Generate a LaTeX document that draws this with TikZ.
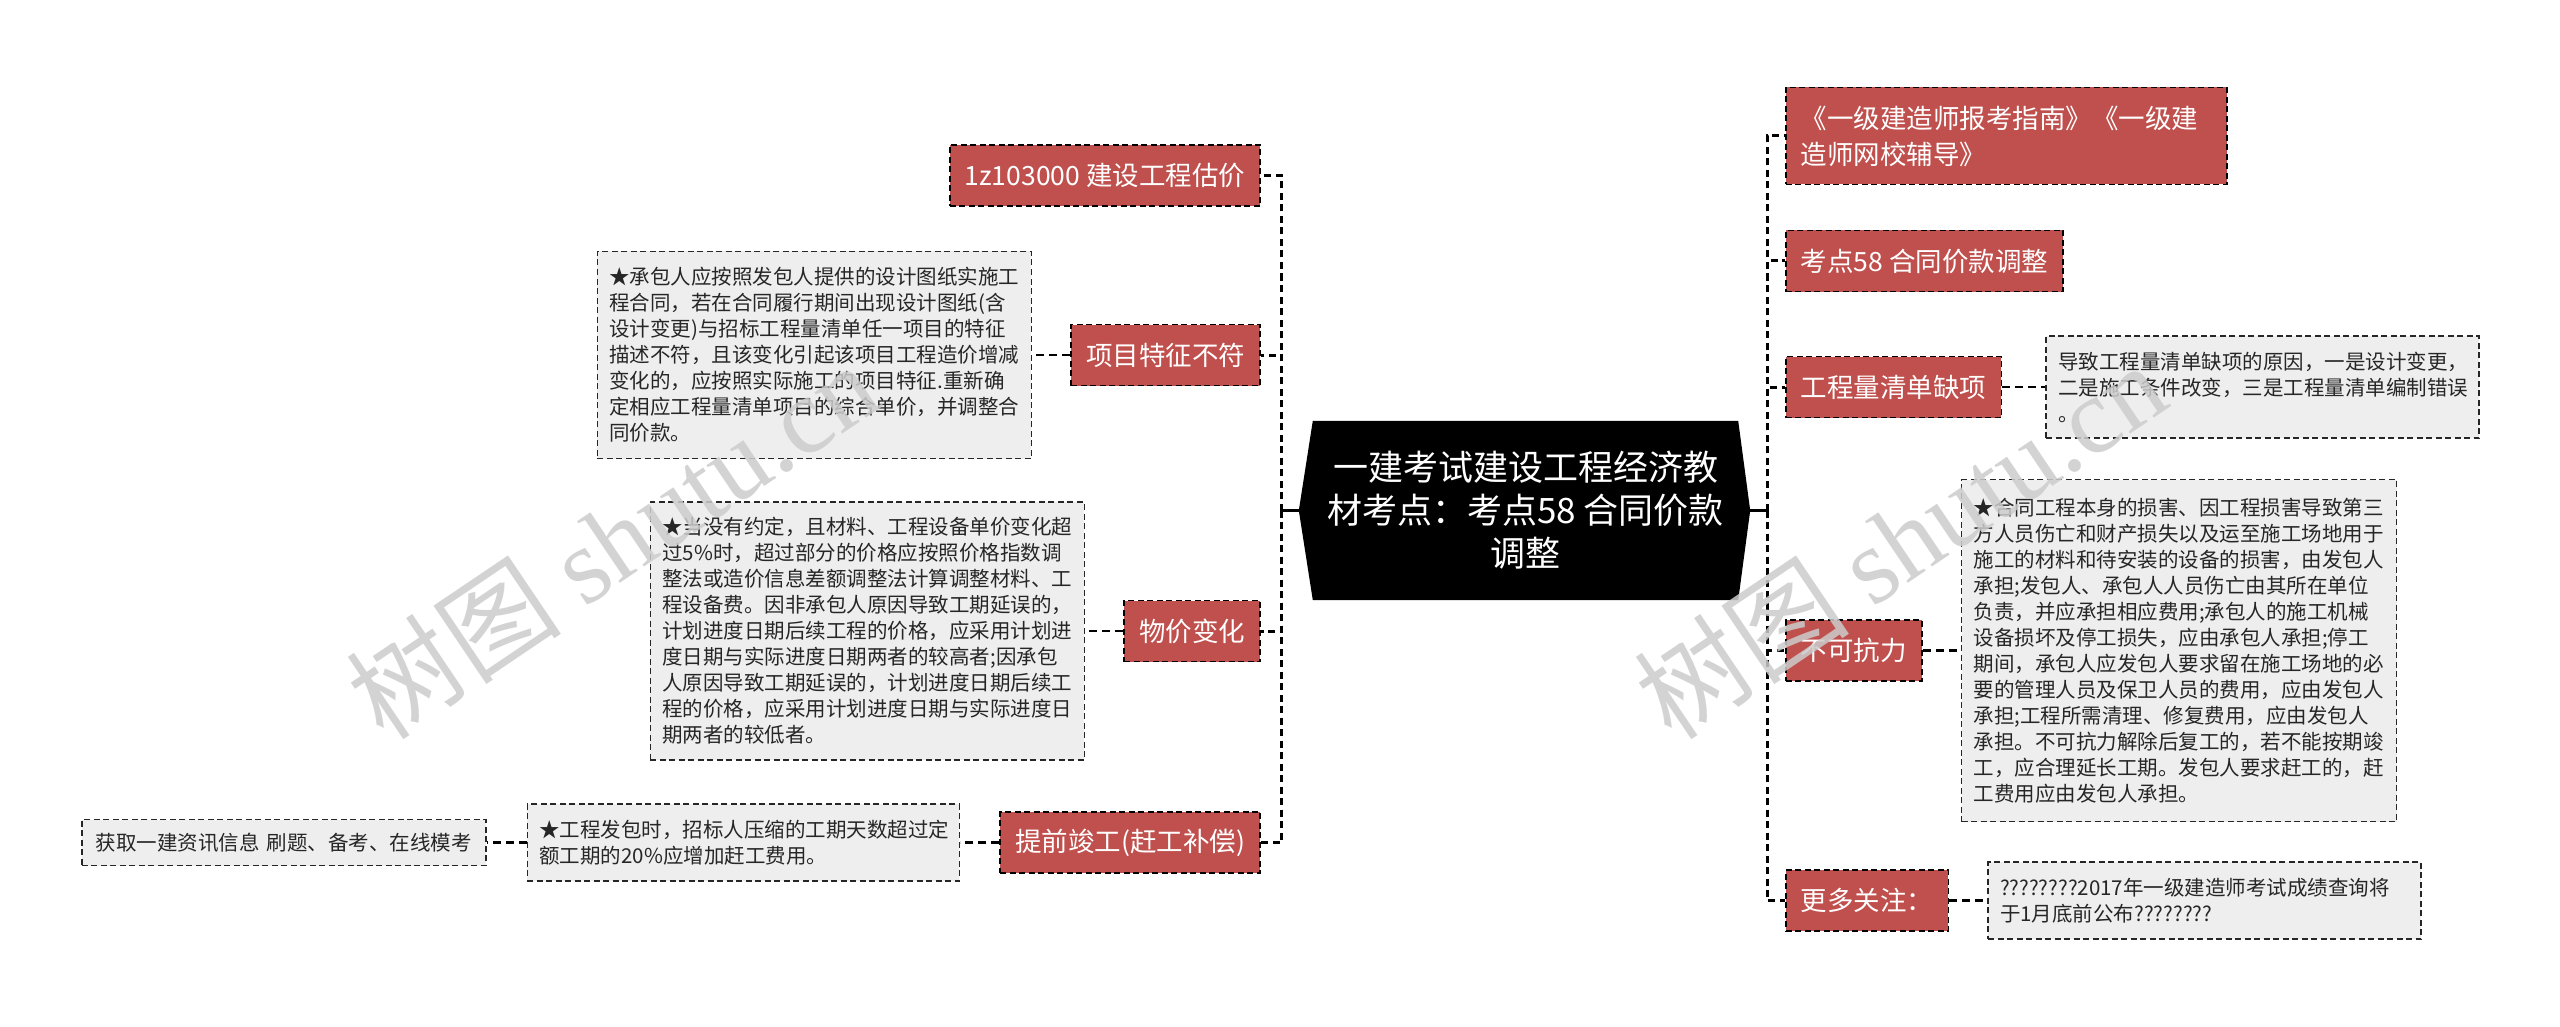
\documentclass[tikz,border=0pt]{standalone}
\usepackage{fontspec}
\setmainfont{Noto Sans CJK SC}
\newfontfamily\wmserif{Liberation Serif}
\usetikzlibrary{positioning,backgrounds}
\definecolor{nodered}{RGB}{192,80,77}
\definecolor{boxgray}{RGB}{238,238,238}
\begin{document}
\begin{tikzpicture}[x=1pt,y=-1pt,
  redbox/.style={draw=black, line width=1.8pt, dash pattern=on 6pt off 3.5pt, fill=nodered, text=white,
    font=\fontsize{26.5}{33}\selectfont, inner xsep=15pt, inner ysep=0pt, minimum height=61pt},
  graybox/.style={draw=black!85, line width=1.6pt, dash pattern=on 6pt off 3.5pt, fill=boxgray, text=black!85,
    font=\fontsize{20.5}{26}\selectfont, inner xsep=12pt, inner ysep=0pt, align=left},
  trunk/.style={line width=3pt, dash pattern=on 7pt off 4.5pt},
  twig/.style={line width=2.4pt, dash pattern=on 8pt off 5pt},
  wmark/.style={rotate=34, text=black!20, opacity=0.85, font=\fontsize{108}{108}\selectfont}
]
\useasboundingbox (0,0) rectangle (2560,1027);

% central node
\node[font=\fontsize{35}{43}\selectfont, text=white, align=center, minimum width=425pt, minimum height=179pt, inner sep=0pt]
  (root) at (1525.5,510.5) {一建考试建设工程经济教\\材考点：考点58 合同价款\\调整};
\begin{scope}[on background layer]
  \fill[white] (0,0) rectangle (2560,1027);
  \fill[black] (root.north west) -- (root.north east) -- ([xshift=12pt]root.east) -- (root.south east)
    -- (root.south west) -- ([xshift=-14pt]root.west) -- cycle;
\end{scope}
\coordinate (rootW) at ([xshift=-14pt]root.west);
\coordinate (rootE) at ([xshift=12pt]root.east);
\coordinate (lt) at (1281,510.5);
\coordinate (rt) at (1767,510.5);

% left branch
\node[redbox, anchor=east] (L1) at (1261,175.5) {1z103000 建设工程估价};
\node[redbox, anchor=east] (L2) at (1261,355) {项目特征不符};
\node[redbox, anchor=east] (L3) at (1261,631) {物价变化};
\node[redbox, anchor=east] (L4) at (1261,842.5) {提前竣工(赶工补偿)};

\node[graybox, text width=410pt, minimum height=207pt, left=38pt of L2] (T2)
{★承包人应按照发包人提供的设计图纸实施工\\程合同，若在合同履行期间出现设计图纸(含\\设计变更)与招标工程量清单任一项目的特征\\描述不符，且该变化引起该项目工程造价增减\\变化的，应按照实际施工的项目特征.重新确\\定相应工程量清单项目的综合单价，并调整合\\同价款。};
\node[graybox, text width=410pt, minimum height=258pt, left=38pt of L3] (T3)
{★当没有约定，且材料、工程设备单价变化超\\过5\%时，超过部分的价格应按照价格指数调\\整法或造价信息差额调整法计算调整材料、工\\程设备费。因非承包人原因导致工期延误的，\\计划进度日期后续工程的价格，应采用计划进\\度日期与实际进度日期两者的较高者;因承包\\人原因导致工期延误的，计划进度日期后续工\\程的价格，应采用计划进度日期与实际进度日\\期两者的较低者。};
\node[graybox, text width=408pt, minimum height=77pt, left=39pt of L4] (T4)
{★工程发包时，招标人压缩的工期天数超过定\\额工期的20\%应增加赶工费用。};
\node[graybox, text width=380pt, align=center, minimum height=46pt, left=40pt of T4] (T5)
{获取一建资讯信息 刷题、备考、在线模考};

% right branch
\node[redbox, anchor=west, text width=411pt, align=left, minimum height=97pt, font=\fontsize{26.5}{36}\selectfont]
  (R1) at (1785,136) {《一级建造师报考指南》《一级建\\造师网校辅导》};
\node[redbox, anchor=west] (R2) at (1785,261) {考点58 合同价款调整};
\node[redbox, anchor=west] (R3) at (1785,387) {工程量清单缺项};
\node[redbox, anchor=west] (R4) at (1785,650.5) {不可抗力};
\node[redbox, anchor=west] (R5) at (1785,900.5) {更多关注：};

\node[graybox, text width=409pt, minimum height=102pt, right=43pt of R3] (TR3)
{导致工程量清单缺项的原因，一是设计变更，\\二是施工条件改变，三是工程量清单编制错误\\。};
\node[graybox, text width=411pt, minimum height=342pt, right=38pt of R4] (TR4)
{★合同工程本身的损害、因工程损害导致第三\\方人员伤亡和财产损失以及运至施工场地用于\\施工的材料和待安装的设备的损害，由发包人\\承担;发包人、承包人人员伤亡由其所在单位\\负责，并应承担相应费用;承包人的施工机械\\设备损坏及停工损失，应由承包人承担;停工\\期间，承包人应发包人要求留在施工场地的必\\要的管理人员及保卫人员的费用，应由发包人\\承担;工程所需清理、修复费用，应由发包人\\承担。不可抗力解除后复工的，若不能按期竣\\工，应合理延长工期。发包人要求赶工的，赶\\工费用应由发包人承担。};
\node[graybox, text width=409pt, minimum height=77pt, right=38pt of R5] (TR5)
{????????2017年一级建造师考试成绩查询将\\于1月底前公布????????};

% connectors
\draw[line width=3pt] (rootW) -- (lt);
\draw[line width=3pt] (rootE) -- (rt);
\foreach \n in {L1,L2,L3,L4} \draw[trunk] (lt) |- (\n.east);
\foreach \n in {R1,R2,R3,R4,R5} \draw[trunk] (rt) |- (\n.west);
\draw[twig] (L2.west) -- (T2.east);
\draw[twig] (L3.west) -- (T3.east);
\draw[twig] (L4.west) -- (T4.east);
\draw[twig] (T4.west) -- (T5.east);
\draw[twig] (R3.east) -- (TR3.west);
\draw[twig] (R4.east) -- (TR4.west);
\draw[twig] (R5.east) -- (TR5.west);

% watermarks
\node[wmark] (wm1) at (612,540) {树图 {\wmserif shutu.cn}};
\node[wmark] (wm2) at (1900,540) {树图 {\wmserif shutu.cn}};
\end{tikzpicture}
\end{document}
